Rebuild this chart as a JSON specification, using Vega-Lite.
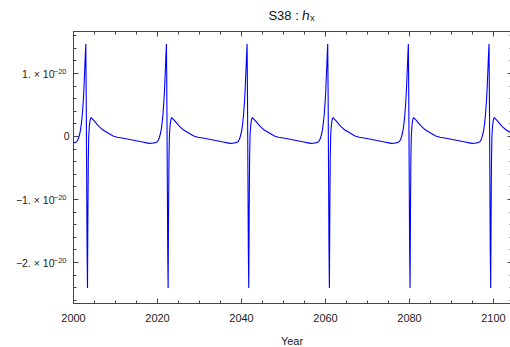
{
  "$schema": "https://vega.github.io/schema/vega-lite/v6.json",
  "autosize": {"type": "none"},
  "padding": {"left": 73, "top": 31, "right": 0, "bottom": 44},
  "width": 437,
  "height": 272,
  "background": "white",
  "config": {
    "view": {"stroke": null},
    "font": "Liberation Sans",
    "axis": {"labelFont": "Liberation Sans", "titleFont": "Liberation Sans", "labelColor": "#222", "titleColor": "#222", "domainColor": "#444", "tickColor": "#444", "grid": false, "tickWidth": 1, "domainWidth": 1}
  },
  "title": {"text": "S38 : ℎₓ", "font": "Liberation Sans", "fontSize": 13, "fontWeight": "normal", "color": "#111", "anchor": "middle", "offset": 8},
  "datasets": {
    "s38": [
      {"year": 2000.00, "h": -1.0e-21},
      {"year": 2000.35, "h": -1.05e-21},
      {"year": 2000.65, "h": -1.0e-21},
      {"year": 2000.95, "h": -8.5e-22},
      {"year": 2001.29, "h": -4.0e-22},
      {"year": 2001.62, "h": 4.0e-22},
      {"year": 2001.80, "h": 1.0e-21},
      {"year": 2002.00, "h": 2.0e-21},
      {"year": 2002.20, "h": 3.3e-21},
      {"year": 2002.41, "h": 5.2e-21},
      {"year": 2002.57, "h": 7.0e-21},
      {"year": 2002.72, "h": 9.4e-21},
      {"year": 2002.85, "h": 1.15e-20},
      {"year": 2002.95, "h": 1.32e-20},
      {"year": 2003.05, "h": 1.46e-20},
      {"year": 2003.15, "h": 6.0e-21},
      {"year": 2003.25, "h": -6.0e-21},
      {"year": 2003.35, "h": -1.8e-20},
      {"year": 2003.45, "h": -2.41e-20},
      {"year": 2003.55, "h": -1.2e-20},
      {"year": 2003.65, "h": -3.5e-21},
      {"year": 2003.75, "h": 0},
      {"year": 2003.90, "h": 1.6e-21},
      {"year": 2004.05, "h": 2.4e-21},
      {"year": 2004.20, "h": 2.8e-21},
      {"year": 2004.35, "h": 2.9e-21},
      {"year": 2004.65, "h": 2.7e-21},
      {"year": 2005.05, "h": 2.4e-21},
      {"year": 2005.55, "h": 2.0e-21},
      {"year": 2006.05, "h": 1.6e-21},
      {"year": 2006.55, "h": 1.3e-21},
      {"year": 2007.05, "h": 1.0e-21},
      {"year": 2008.05, "h": 6.0e-22},
      {"year": 2009.05, "h": 2.0e-22},
      {"year": 2009.55, "h": 0},
      {"year": 2010.55, "h": -2.0e-22},
      {"year": 2012.05, "h": -3.5e-22},
      {"year": 2013.55, "h": -5.5e-22},
      {"year": 2015.05, "h": -7.5e-22},
      {"year": 2016.55, "h": -9.5e-22},
      {"year": 2017.55, "h": -1.08e-21},
      {"year": 2018.20, "h": -1.16e-21},
      {"year": 2018.85, "h": -1.14e-21},
      {"year": 2019.55, "h": -1.05e-21},
      {"year": 2019.85, "h": -1.0e-21},
      {"year": 2020.15, "h": -8.5e-22},
      {"year": 2020.49, "h": -4.0e-22},
      {"year": 2020.82, "h": 4.0e-22},
      {"year": 2021.00, "h": 1.0e-21},
      {"year": 2021.20, "h": 2.0e-21},
      {"year": 2021.40, "h": 3.3e-21},
      {"year": 2021.61, "h": 5.2e-21},
      {"year": 2021.77, "h": 7.0e-21},
      {"year": 2021.92, "h": 9.4e-21},
      {"year": 2022.05, "h": 1.15e-20},
      {"year": 2022.15, "h": 1.32e-20},
      {"year": 2022.25, "h": 1.46e-20},
      {"year": 2022.35, "h": 6.0e-21},
      {"year": 2022.45, "h": -6.0e-21},
      {"year": 2022.55, "h": -1.8e-20},
      {"year": 2022.65, "h": -2.41e-20},
      {"year": 2022.75, "h": -1.2e-20},
      {"year": 2022.85, "h": -3.5e-21},
      {"year": 2022.95, "h": 0},
      {"year": 2023.10, "h": 1.6e-21},
      {"year": 2023.25, "h": 2.4e-21},
      {"year": 2023.40, "h": 2.8e-21},
      {"year": 2023.55, "h": 2.9e-21},
      {"year": 2023.85, "h": 2.7e-21},
      {"year": 2024.25, "h": 2.4e-21},
      {"year": 2024.75, "h": 2.0e-21},
      {"year": 2025.25, "h": 1.6e-21},
      {"year": 2025.75, "h": 1.3e-21},
      {"year": 2026.25, "h": 1.0e-21},
      {"year": 2027.25, "h": 6.0e-22},
      {"year": 2028.25, "h": 2.0e-22},
      {"year": 2028.75, "h": 0},
      {"year": 2029.75, "h": -2.0e-22},
      {"year": 2031.25, "h": -3.5e-22},
      {"year": 2032.75, "h": -5.5e-22},
      {"year": 2034.25, "h": -7.5e-22},
      {"year": 2035.75, "h": -9.5e-22},
      {"year": 2036.75, "h": -1.08e-21},
      {"year": 2037.40, "h": -1.16e-21},
      {"year": 2038.05, "h": -1.14e-21},
      {"year": 2038.75, "h": -1.05e-21},
      {"year": 2039.05, "h": -1.0e-21},
      {"year": 2039.35, "h": -8.5e-22},
      {"year": 2039.69, "h": -4.0e-22},
      {"year": 2040.02, "h": 4.0e-22},
      {"year": 2040.20, "h": 1.0e-21},
      {"year": 2040.40, "h": 2.0e-21},
      {"year": 2040.60, "h": 3.3e-21},
      {"year": 2040.81, "h": 5.2e-21},
      {"year": 2040.97, "h": 7.0e-21},
      {"year": 2041.12, "h": 9.4e-21},
      {"year": 2041.25, "h": 1.15e-20},
      {"year": 2041.35, "h": 1.32e-20},
      {"year": 2041.45, "h": 1.46e-20},
      {"year": 2041.55, "h": 6.0e-21},
      {"year": 2041.65, "h": -6.0e-21},
      {"year": 2041.75, "h": -1.8e-20},
      {"year": 2041.85, "h": -2.41e-20},
      {"year": 2041.95, "h": -1.2e-20},
      {"year": 2042.05, "h": -3.5e-21},
      {"year": 2042.15, "h": 0},
      {"year": 2042.30, "h": 1.6e-21},
      {"year": 2042.45, "h": 2.4e-21},
      {"year": 2042.60, "h": 2.8e-21},
      {"year": 2042.75, "h": 2.9e-21},
      {"year": 2043.05, "h": 2.7e-21},
      {"year": 2043.45, "h": 2.4e-21},
      {"year": 2043.95, "h": 2.0e-21},
      {"year": 2044.45, "h": 1.6e-21},
      {"year": 2044.95, "h": 1.3e-21},
      {"year": 2045.45, "h": 1.0e-21},
      {"year": 2046.45, "h": 6.0e-22},
      {"year": 2047.45, "h": 2.0e-22},
      {"year": 2047.95, "h": 0},
      {"year": 2048.95, "h": -2.0e-22},
      {"year": 2050.45, "h": -3.5e-22},
      {"year": 2051.95, "h": -5.5e-22},
      {"year": 2053.45, "h": -7.5e-22},
      {"year": 2054.95, "h": -9.5e-22},
      {"year": 2055.95, "h": -1.08e-21},
      {"year": 2056.60, "h": -1.16e-21},
      {"year": 2057.25, "h": -1.14e-21},
      {"year": 2057.95, "h": -1.05e-21},
      {"year": 2058.25, "h": -1.0e-21},
      {"year": 2058.55, "h": -8.5e-22},
      {"year": 2058.89, "h": -4.0e-22},
      {"year": 2059.22, "h": 4.0e-22},
      {"year": 2059.40, "h": 1.0e-21},
      {"year": 2059.60, "h": 2.0e-21},
      {"year": 2059.80, "h": 3.3e-21},
      {"year": 2060.01, "h": 5.2e-21},
      {"year": 2060.17, "h": 7.0e-21},
      {"year": 2060.32, "h": 9.4e-21},
      {"year": 2060.45, "h": 1.15e-20},
      {"year": 2060.55, "h": 1.32e-20},
      {"year": 2060.65, "h": 1.46e-20},
      {"year": 2060.75, "h": 6.0e-21},
      {"year": 2060.85, "h": -6.0e-21},
      {"year": 2060.95, "h": -1.8e-20},
      {"year": 2061.05, "h": -2.41e-20},
      {"year": 2061.15, "h": -1.2e-20},
      {"year": 2061.25, "h": -3.5e-21},
      {"year": 2061.35, "h": 0},
      {"year": 2061.50, "h": 1.6e-21},
      {"year": 2061.65, "h": 2.4e-21},
      {"year": 2061.80, "h": 2.8e-21},
      {"year": 2061.95, "h": 2.9e-21},
      {"year": 2062.25, "h": 2.7e-21},
      {"year": 2062.65, "h": 2.4e-21},
      {"year": 2063.15, "h": 2.0e-21},
      {"year": 2063.65, "h": 1.6e-21},
      {"year": 2064.15, "h": 1.3e-21},
      {"year": 2064.65, "h": 1.0e-21},
      {"year": 2065.65, "h": 6.0e-22},
      {"year": 2066.65, "h": 2.0e-22},
      {"year": 2067.15, "h": 0},
      {"year": 2068.15, "h": -2.0e-22},
      {"year": 2069.65, "h": -3.5e-22},
      {"year": 2071.15, "h": -5.5e-22},
      {"year": 2072.65, "h": -7.5e-22},
      {"year": 2074.15, "h": -9.5e-22},
      {"year": 2075.15, "h": -1.08e-21},
      {"year": 2075.80, "h": -1.16e-21},
      {"year": 2076.45, "h": -1.14e-21},
      {"year": 2077.15, "h": -1.05e-21},
      {"year": 2077.45, "h": -1.0e-21},
      {"year": 2077.75, "h": -8.5e-22},
      {"year": 2078.09, "h": -4.0e-22},
      {"year": 2078.42, "h": 4.0e-22},
      {"year": 2078.60, "h": 1.0e-21},
      {"year": 2078.80, "h": 2.0e-21},
      {"year": 2079.00, "h": 3.3e-21},
      {"year": 2079.21, "h": 5.2e-21},
      {"year": 2079.37, "h": 7.0e-21},
      {"year": 2079.52, "h": 9.4e-21},
      {"year": 2079.65, "h": 1.15e-20},
      {"year": 2079.75, "h": 1.32e-20},
      {"year": 2079.85, "h": 1.46e-20},
      {"year": 2079.95, "h": 6.0e-21},
      {"year": 2080.05, "h": -6.0e-21},
      {"year": 2080.15, "h": -1.8e-20},
      {"year": 2080.25, "h": -2.41e-20},
      {"year": 2080.35, "h": -1.2e-20},
      {"year": 2080.45, "h": -3.5e-21},
      {"year": 2080.55, "h": 0},
      {"year": 2080.70, "h": 1.6e-21},
      {"year": 2080.85, "h": 2.4e-21},
      {"year": 2081.00, "h": 2.8e-21},
      {"year": 2081.15, "h": 2.9e-21},
      {"year": 2081.45, "h": 2.7e-21},
      {"year": 2081.85, "h": 2.4e-21},
      {"year": 2082.35, "h": 2.0e-21},
      {"year": 2082.85, "h": 1.6e-21},
      {"year": 2083.35, "h": 1.3e-21},
      {"year": 2083.85, "h": 1.0e-21},
      {"year": 2084.85, "h": 6.0e-22},
      {"year": 2085.85, "h": 2.0e-22},
      {"year": 2086.35, "h": 0},
      {"year": 2087.35, "h": -2.0e-22},
      {"year": 2088.85, "h": -3.5e-22},
      {"year": 2090.35, "h": -5.5e-22},
      {"year": 2091.85, "h": -7.5e-22},
      {"year": 2093.35, "h": -9.5e-22},
      {"year": 2094.35, "h": -1.08e-21},
      {"year": 2095.00, "h": -1.16e-21},
      {"year": 2095.65, "h": -1.14e-21},
      {"year": 2096.35, "h": -1.05e-21},
      {"year": 2096.65, "h": -1.0e-21},
      {"year": 2096.95, "h": -8.5e-22},
      {"year": 2097.29, "h": -4.0e-22},
      {"year": 2097.62, "h": 4.0e-22},
      {"year": 2097.80, "h": 1.0e-21},
      {"year": 2098.00, "h": 2.0e-21},
      {"year": 2098.20, "h": 3.3e-21},
      {"year": 2098.41, "h": 5.2e-21},
      {"year": 2098.57, "h": 7.0e-21},
      {"year": 2098.72, "h": 9.4e-21},
      {"year": 2098.85, "h": 1.15e-20},
      {"year": 2098.95, "h": 1.32e-20},
      {"year": 2099.05, "h": 1.46e-20},
      {"year": 2099.15, "h": 6.0e-21},
      {"year": 2099.25, "h": -6.0e-21},
      {"year": 2099.35, "h": -1.8e-20},
      {"year": 2099.45, "h": -2.41e-20},
      {"year": 2099.55, "h": -1.2e-20},
      {"year": 2099.65, "h": -3.5e-21},
      {"year": 2099.75, "h": 0},
      {"year": 2099.90, "h": 1.6e-21},
      {"year": 2100.05, "h": 2.4e-21},
      {"year": 2100.20, "h": 2.8e-21},
      {"year": 2100.35, "h": 2.9e-21},
      {"year": 2100.65, "h": 2.7e-21},
      {"year": 2101.05, "h": 2.4e-21},
      {"year": 2101.55, "h": 2.0e-21},
      {"year": 2102.05, "h": 1.6e-21},
      {"year": 2102.55, "h": 1.3e-21},
      {"year": 2103.05, "h": 1.0e-21},
      {"year": 2104.05, "h": 6.0e-22},
      {"year": 2105.05, "h": 2.0e-22}
    ]
  },
  "resolve": {"axis": {"x": "independent", "y": "independent"}},
  "layer": [
    {
      "data": {"name": "s38"},
      "mark": {"type": "line", "color": "#0000ff", "strokeWidth": 1.1, "clip": true},
      "encoding": {
        "x": {
          "field": "year", "type": "quantitative",
          "scale": {"domain": [2000, 2104.05], "nice": false, "zero": false},
          "axis": {
            "orient": "bottom", "title": "Year", "titleFontSize": 11, "titleFontWeight": "normal", "titlePadding": 12,
            "values": [2000, 2020, 2040, 2060, 2080, 2100],
            "labelFontSize": 11, "labelPadding": 14, "labelFlush": false, "labelOverlap": false, "format": "d",
            "tickSize": -5
          }
        },
        "y": {
          "field": "h", "type": "quantitative",
          "scale": {"domain": [-2.65e-20, 1.667e-20], "nice": false, "zero": false},
          "axis": {
            "orient": "left", "title": null,
            "values": [-2.0e-20, -1.0e-20, 0, 1.0e-20],
            "labelExpr": "abs(datum.value) < 1e-25 ? '' : ((datum.value < 0 ? '−' : '') + abs(round(datum.value*1e20)) + '. × 10')",
            "labelFontSize": 10.5, "labelPadding": 24, "labelOffset": 1, "labelOverlap": false, "labelFlush": false,
            "tickSize": -5
          }
        }
      }
    },
    {
      "mark": {"type": "rule", "color": "#000000", "strokeWidth": 1},
      "encoding": {
        "y": {"datum": 0, "type": "quantitative", "axis": null}
      }
    },
    {
      "data": {"name": "s38"},
      "mark": {"type": "line", "opacity": 0, "clip": true},
      "encoding": {
        "x": {
          "field": "year", "type": "quantitative",
          "axis": {"orient": "top", "title": null, "labels": false, "values": [2000, 2020, 2040, 2060, 2080, 2100], "tickSize": -5}
        },
        "y": {
          "field": "h", "type": "quantitative",
          "axis": {"orient": "right", "title": null, "labels": false, "domain": false, "offset": 2, "values": [-2.0e-20, -1.0e-20, 0, 1.0e-20], "tickSize": -5}
        }
      }
    },
    {
      "data": {"name": "s38"},
      "mark": {"type": "line", "opacity": 0, "clip": true},
      "encoding": {
        "x": {
          "field": "year", "type": "quantitative",
          "axis": {"orient": "bottom", "title": null, "labels": false, "domain": false,
            "values": [2005, 2010, 2015, 2025, 2030, 2035, 2045, 2050, 2055, 2065, 2070, 2075, 2085, 2090, 2095], "tickSize": -3}
        },
        "y": {
          "field": "h", "type": "quantitative",
          "axis": {"orient": "left", "title": null, "labels": false, "domain": false,
            "values": [-2.6e-20, -2.4e-20, -2.2e-20, -1.8e-20, -1.6e-20, -1.4e-20, -1.2e-20, -8e-21, -6e-21, -4e-21, -2e-21, 2e-21, 4e-21, 6e-21, 8e-21, 1.2e-20, 1.4e-20, 1.6e-20], "tickSize": -3}
        }
      }
    },
    {
      "data": {"name": "s38"},
      "mark": {"type": "line", "opacity": 0, "clip": true},
      "encoding": {
        "x": {
          "field": "year", "type": "quantitative",
          "axis": {"orient": "top", "title": null, "labels": false, "domain": false,
            "values": [2005, 2010, 2015, 2025, 2030, 2035, 2045, 2050, 2055, 2065, 2070, 2075, 2085, 2090, 2095], "tickSize": -3}
        },
        "y": {
          "field": "h", "type": "quantitative",
          "axis": {"orient": "right", "title": null, "labels": false, "domain": false, "offset": 2,
            "values": [-2.6e-20, -2.4e-20, -2.2e-20, -1.8e-20, -1.6e-20, -1.4e-20, -1.2e-20, -8e-21, -6e-21, -4e-21, -2e-21, 2e-21, 4e-21, 6e-21, 8e-21, 1.2e-20, 1.4e-20, 1.6e-20], "tickSize": -3}
        }
      }
    },
    {
      "data": {"name": "s38"},
      "mark": {"type": "line", "opacity": 0, "clip": true},
      "encoding": {
        "x": {"field": "year", "type": "quantitative", "axis": null},
        "y": {
          "field": "h", "type": "quantitative",
          "axis": {"orient": "left", "title": null, "domain": false, "values": [0], "labelExpr": "'0'",
            "labelFontSize": 10.5, "labelPadding": 9, "tickSize": -5}
        }
      }
    },
    {
      "data": {"name": "s38"},
      "mark": {"type": "line", "opacity": 0, "clip": true},
      "encoding": {
        "x": {"field": "year", "type": "quantitative", "axis": null},
        "y": {
          "field": "h", "type": "quantitative",
          "axis": {"orient": "left", "title": null, "domain": false, "values": [-2.0e-20, -1.0e-20, 1.0e-20],
            "labelExpr": "'−20'", "labelFontSize": 7.5, "labelPadding": 7, "labelOffset": -2, "labelOverlap": false,
            "tickSize": 0, "tickOpacity": 0}
        }
      }
    }
  ]
}
